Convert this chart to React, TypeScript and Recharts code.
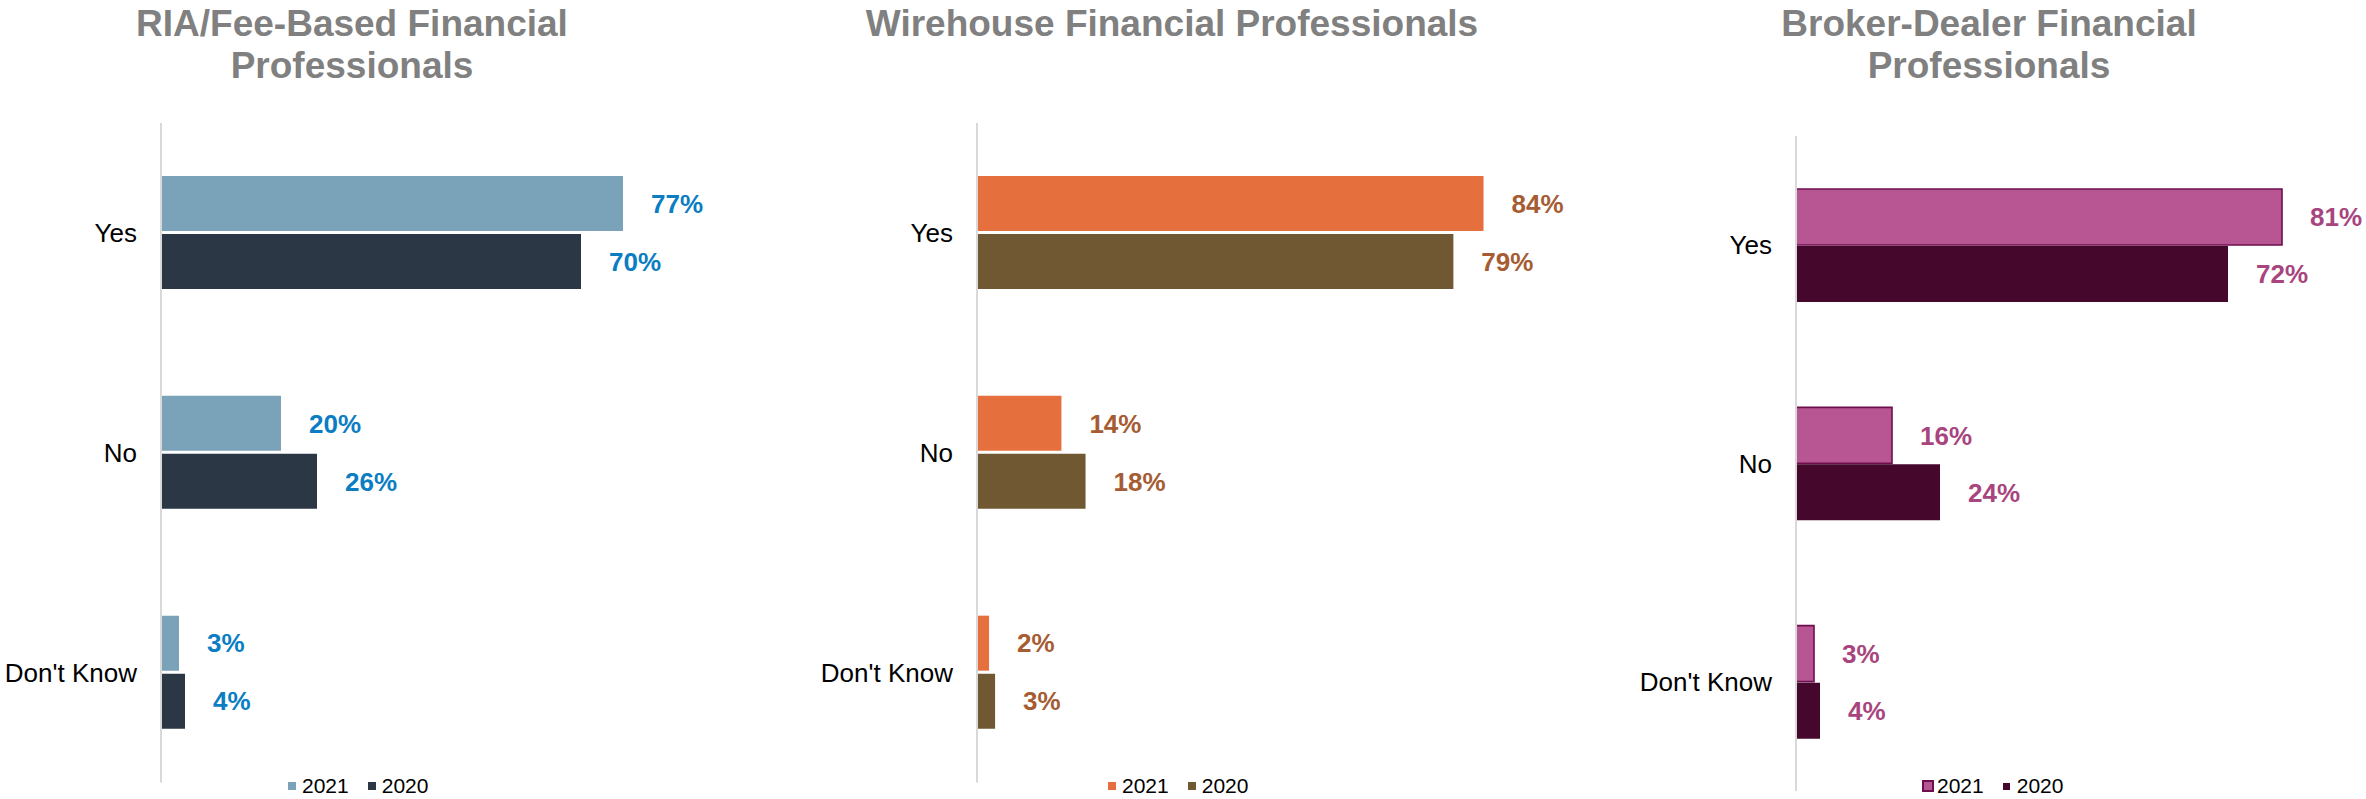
import React from 'react';
import { BarChart, Bar, XAxis, YAxis, LabelList, Legend } from 'recharts';

// ---------- data ----------
const categories = ['Yes', 'No', "Don't Know"];
const seriesNames = ['2021', '2020'];

const riaValues2021 = [77, 20, 3];
const riaValues2020 = [70, 26, 4];

const wirehouseValues2021 = [84, 14, 2];
const wirehouseValues2020 = [79, 18, 3];

const brokerValues2021 = [81, 16, 3];
const brokerValues2020 = [72, 24, 4];

const riaTitle = ['RIA/Fee-Based Financial', 'Professionals'];
const wirehouseTitle = ['Wirehouse Financial Professionals'];
const brokerTitle = ['Broker-Dealer Financial', 'Professionals'];

// ---------- styles ----------
const FONT = '"Liberation Sans", Arial, Helvetica, sans-serif';
const CHART_H = 799;

type LegendStyle = {
  left: number;
  sq1: number;
  sq1Border?: string;
  gap1: number;
  sq2: number;
  gap2: number;
  between: number;
};

type PanelProps = {
  left: number;
  width: number;
  axisX: number;
  plotWidth: number;
  plotTop: number;
  plotHeight: number;
  values2021: number[];
  values2020: number[];
  color2021: string;
  color2020: string;
  stroke2021?: string;
  labelColor: string;
  barSize: number;
  barGap: number;
  titleLines: string[];
  titleCenter: number;
  legend: LegendStyle;
};

function Panel(p: PanelProps) {
  const data = categories.map((name, i) => ({
    name,
    v2021: p.values2021[i],
    v2020: p.values2020[i],
  }));

  const labelProps = {
    position: 'right' as const,
    offset: 28,
    fill: p.labelColor,
    fontSize: 26,
    fontWeight: 'bold',
    fontFamily: FONT,
    formatter: (v: any) => `${v}%`,
  };

  const renderLegend = () => (
    <div
      style={{
        display: 'flex',
        alignItems: 'center',
        height: 22,
        fontFamily: FONT,
        fontSize: 21,
        lineHeight: '22px',
        color: '#000',
        whiteSpace: 'nowrap',
      }}
    >
      <span
        style={{
          display: 'inline-block',
          width: p.legend.sq1,
          height: p.legend.sq1,
          boxSizing: 'border-box',
          background: p.color2021,
          border: p.legend.sq1Border ? `2px solid ${p.legend.sq1Border}` : 'none',
          marginRight: p.legend.gap1,
        }}
      />
      <span style={{ marginRight: p.legend.between }}>{seriesNames[0]}</span>
      <span
        style={{
          display: 'inline-block',
          width: p.legend.sq2,
          height: p.legend.sq2,
          background: p.color2020,
          marginRight: p.legend.gap2,
        }}
      />
      <span>{seriesNames[1]}</span>
    </div>
  );

  return (
    <>
      <div
        style={{
          position: 'absolute',
          left: p.titleCenter - 350,
          top: 3,
          width: 700,
          textAlign: 'center',
          fontFamily: FONT,
          fontWeight: 'bold',
          fontSize: 37,
          lineHeight: '42px',
          color: '#808080',
          whiteSpace: 'nowrap',
        }}
      >
        {p.titleLines.map((t, i) => (
          <div key={i}>{t}</div>
        ))}
      </div>
      <div style={{ position: 'absolute', left: p.left, top: 0, width: p.width, height: CHART_H }}>
        <BarChart
          width={p.width}
          height={CHART_H}
          data={data}
          layout="vertical"
          margin={{
            top: p.plotTop,
            right: p.width - p.axisX - p.plotWidth,
            bottom: CHART_H - p.plotTop - p.plotHeight,
            left: 0,
          }}
          barSize={p.barSize}
          barGap={p.barGap}
        >
          <XAxis type="number" domain={[0, 100]} hide />
          <YAxis
            type="category"
            dataKey="name"
            width={p.axisX}
            interval={0}
            axisLine={{ stroke: '#D9D9D9', strokeWidth: 2 }}
            tickLine={false}
            tickSize={0}
            tickMargin={24}
            tick={{ fill: '#000', fontSize: 26, fontFamily: FONT }}
          />
          <Bar
            dataKey="v2021"
            name={seriesNames[0]}
            fill={p.color2021}
            stroke={p.stroke2021 || 'none'}
            strokeWidth={p.stroke2021 ? 1.6 : 0}
            isAnimationActive={false}
          >
            <LabelList dataKey="v2021" {...labelProps} />
          </Bar>
          <Bar dataKey="v2020" name={seriesNames[1]} fill={p.color2020} isAnimationActive={false}>
            <LabelList dataKey="v2020" {...labelProps} />
          </Bar>
          <Legend
            layout="horizontal"
            verticalAlign="middle"
            align="center"
            wrapperStyle={{ left: p.legend.left - p.left, top: 775, width: 'auto' }}
            content={renderLegend}
          />
        </BarChart>
      </div>
    </>
  );
}

export default function App() {
  return (
    <div
      style={{
        position: 'absolute',
        left: 0,
        top: 0,
        width: 2366,
        height: CHART_H,
        overflow: 'hidden',
        background: '#fff',
      }}
    >
      <Panel
        left={0}
        width={800}
        axisX={161}
        plotWidth={600}
        plotTop={123}
        plotHeight={659.5}
        values2021={riaValues2021}
        values2020={riaValues2020}
        color2021="#7AA2B8"
        color2020="#2B3745"
        labelColor="#0A7DC3"
        barSize={55}
        barGap={3}
        titleLines={riaTitle}
        titleCenter={352}
        legend={{ left: 288, sq1: 8, gap1: 6, sq2: 8, gap2: 6, between: 19 }}
      />
      <Panel
        left={800}
        width={820}
        axisX={177}
        plotWidth={603}
        plotTop={123}
        plotHeight={659.5}
        values2021={wirehouseValues2021}
        values2020={wirehouseValues2020}
        color2021="#E5703E"
        color2020="#705832"
        labelColor="#A65C33"
        barSize={55}
        barGap={3}
        titleLines={wirehouseTitle}
        titleCenter={1172}
        legend={{ left: 1108, sq1: 8, gap1: 6, sq2: 8, gap2: 6, between: 19 }}
      />
      <Panel
        left={1620}
        width={790}
        axisX={176}
        plotWidth={600}
        plotTop={136}
        plotHeight={655}
        values2021={brokerValues2021}
        values2020={brokerValues2020}
        color2021="#B85694"
        color2020="#45072B"
        stroke2021="#6E0F4D"
        labelColor="#A8457E"
        barSize={56}
        barGap={1}
        titleLines={brokerTitle}
        titleCenter={1989}
        legend={{ left: 1922, sq1: 12, sq1Border: '#6E0F4D', gap1: 3, sq2: 7, gap2: 7, between: 19 }}
      />
    </div>
  );
}
